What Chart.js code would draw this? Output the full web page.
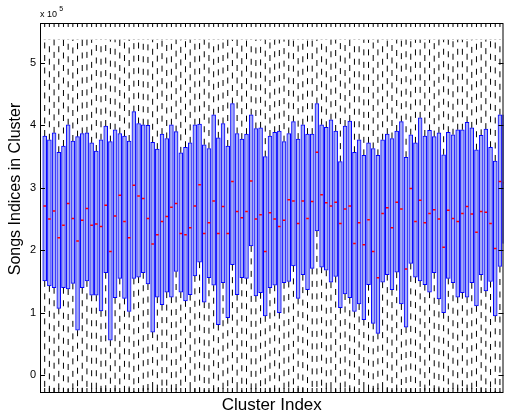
<!DOCTYPE html>
<html>
<head>
<meta charset="utf-8">
<script src="https://cdn.jsdelivr.net/npm/chart.js@4/dist/chart.umd.min.js"></script>
<style>
  body { margin: 0; background: #fff; }
  #wrap { width: 509px; height: 415px; }
</style>
</head>
<body>
<div id="wrap"><canvas id="boxChart" width="509" height="415"></canvas></div>
<script>
// values in units of 1e5 (axis shows "x 10^5")
const clusters = [];
for (let i = 1; i <= 99; i++) clusters.push(i);

const q3 = [3.83, 3.77, 3.88, 3.57, 3.67, 4.01, 3.75, 3.82, 3.87, 3.88,
  3.72, 3.59, 3.77, 3.99, 3.74, 3.93, 3.87, 3.83, 3.75, 4.22,
  4.03, 4.01, 4.00, 3.73, 3.62, 3.86, 3.79, 4.01, 3.90, 3.56,
  3.65, 3.72, 4.01, 4.02, 3.69, 3.63, 4.17, 3.80, 4.03, 3.67,
  4.35, 3.87, 3.78, 3.86, 4.17, 3.95, 3.96, 3.50, 3.83, 3.89,
  3.91, 3.74, 3.87, 4.06, 3.78, 4.01, 3.86, 3.86, 4.35, 4.01,
  3.97, 4.09, 3.91, 3.42, 3.99, 4.07, 3.57, 3.77, 3.52, 3.72,
  3.63, 3.52, 3.77, 3.86, 3.79, 3.91, 4.06, 3.49, 3.85, 3.72,
  4.12, 3.83, 3.92, 3.82, 3.88, 3.53, 3.89, 3.85, 3.93, 3.93,
  4.05, 3.96, 3.61, 3.84, 3.94, 3.65, 3.43, 4.17, 4.17];

const q1 = [1.51, 1.43, 1.40, 1.07, 1.40, 1.38, 1.47, 0.72, 1.40, 1.51,
  1.28, 1.28, 1.03, 1.64, 0.56, 1.24, 1.55, 1.23, 1.02, 1.55,
  1.57, 1.64, 1.46, 0.69, 1.25, 1.13, 1.33, 1.25, 1.66, 1.33,
  1.19, 1.29, 1.59, 1.81, 1.17, 1.56, 1.44, 0.81, 1.48, 0.92,
  1.77, 1.29, 1.56, 1.55, 2.07, 1.27, 1.32, 0.95, 1.40, 1.44,
  1.00, 1.48, 1.50, 1.75, 1.23, 1.61, 1.37, 1.71, 2.31, 1.73,
  1.68, 1.49, 1.58, 1.08, 1.30, 1.24, 1.02, 1.14, 0.89, 1.45,
  0.83, 0.67, 1.49, 1.61, 1.37, 1.65, 1.14, 0.77, 1.79, 1.57,
  1.51, 1.45, 1.33, 1.64, 1.22, 1.00, 1.55, 1.48, 1.25, 1.32,
  1.25, 1.48, 1.11, 1.61, 1.35, 1.50, 0.95, 1.74, 2.11];

const medians = [2.71, 2.50, 2.63, 2.20, 2.40, 2.75, 2.51, 2.15, 2.48, 2.67,
  2.40, 2.42, 2.38, 2.72, 1.98, 2.55, 2.88, 2.46, 2.20, 3.04,
  2.87, 2.83, 2.51, 2.10, 2.25, 2.46, 2.54, 2.69, 2.75, 2.27,
  2.25, 2.36, 2.71, 3.05, 2.27, 2.44, 2.79, 2.27, 2.70, 2.27,
  3.10, 2.62, 2.52, 2.62, 3.11, 2.50, 2.57, 1.98, 2.60, 2.50,
  2.38, 2.48, 2.81, 2.79, 2.43, 2.79, 2.51, 2.78, 3.57, 2.89,
  2.76, 2.71, 2.77, 2.43, 2.66, 2.71, 2.11, 2.44, 2.09, 2.49,
  1.98, 1.56, 2.59, 2.68, 2.36, 2.77, 2.66, 1.70, 2.99, 2.46,
  2.80, 2.44, 2.59, 2.65, 2.50, 2.05, 2.64, 2.51, 2.46, 2.59,
  2.70, 2.58, 2.29, 2.62, 2.61, 2.43, 2.03, 3.10, 3.08];

const whiskerTop = 5.38;
const whiskerBottom = -0.3;
const yTicks = [0, 1, 2, 3, 4, 5];

const FONT = 'Arial, "Liberation Sans", Helvetica, sans-serif';

// dashed whiskers + caps, drawn under the boxes
const whiskers = {
  id: 'whiskers',
  beforeDatasetsDraw(chart) {
    const { ctx, chartArea: a, scales: { x, y } } = chart;
    ctx.save();
    ctx.beginPath();
    ctx.rect(a.left, a.top, a.right - a.left, a.bottom - a.top);
    ctx.clip();
    ctx.lineWidth = 1;
    clusters.forEach((c, i) => {
      const px = x.getPixelForValue(c);
      ctx.strokeStyle = '#000';
      ctx.setLineDash([6, 6.5]);
      ctx.beginPath();
      ctx.moveTo(px, y.getPixelForValue(q3[i]));
      ctx.lineTo(px, y.getPixelForValue(whiskerTop));
      ctx.stroke();
      ctx.beginPath();
      ctx.moveTo(px, y.getPixelForValue(q1[i]));
      ctx.lineTo(px, y.getPixelForValue(whiskerBottom));
      ctx.stroke();
      ctx.setLineDash([]);
      ctx.strokeStyle = '#c8c8c8';
      ctx.beginPath();
      const ty = Math.round(y.getPixelForValue(whiskerTop)) + 0.5;
      ctx.moveTo(px - 1, ty);
      ctx.lineTo(px + 1, ty);
      ctx.stroke();
    });
    ctx.restore();
  }
};

// axes box with inward ticks on all four sides, y label and the exponent label
const frame = {
  id: 'frame',
  afterDraw(chart) {
    const { ctx, chartArea: a, scales: { x, y } } = chart;
    ctx.save();
    ctx.strokeStyle = '#000';
    ctx.lineWidth = 1;
    ctx.strokeRect(a.left + 0.5, a.top + 0.5, a.right - a.left - 1, a.bottom - a.top);
    ctx.beginPath();
    clusters.forEach(c => {
      const px = x.getPixelForValue(c);
      if (px > a.right - 1) return;
      ctx.moveTo(px, a.top);
      ctx.lineTo(px, a.top + 4);
      ctx.moveTo(px, a.bottom);
      ctx.lineTo(px, a.bottom - 4);
    });
    yTicks.forEach(v => {
      const py = Math.round(y.getPixelForValue(v)) + 0.5;
      ctx.moveTo(a.left, py);
      ctx.lineTo(a.left + 5, py);
      ctx.moveTo(a.right, py);
      ctx.lineTo(a.right - 5, py);
    });
    ctx.stroke();

    ctx.fillStyle = '#000';
    ctx.textBaseline = 'alphabetic';
    ctx.textAlign = 'left';
    ctx.font = '9px ' + FONT;
    ctx.fillText('x 10', a.left, 17);
    ctx.font = '7px ' + FONT;
    ctx.fillText('5', a.left + ctx.measureText('x 10').width + 6, 11);

    ctx.translate(16, 189);
    ctx.rotate(-Math.PI / 2);
    ctx.textAlign = 'center';
    ctx.textBaseline = 'middle';
    ctx.font = '16px ' + FONT;
    ctx.fillText('Songs Indices in Cluster', 0, 0);
    ctx.restore();
  }
};

new Chart(document.getElementById('boxChart'), {
  type: 'bar',
  data: {
    datasets: [
      {
        type: 'line',
        data: clusters.map((c, i) => ({ x: c, y: medians[i] })),
        showLine: false,
        pointStyle: 'line',
        pointRadius: 1.3,
        pointBorderWidth: 1.5,
        pointBorderColor: '#ff0000',
        pointBackgroundColor: '#ff0000',
        order: 0
      },
      {
        type: 'bar',
        data: clusters.map((c, i) => ({ x: c, y: [q1[i], q3[i]] })),
        backgroundColor: '#a6acf6',
        borderColor: '#0000ff',
        borderWidth: 1,
        borderSkipped: false,
        barThickness: 3.9,
        grouped: false,
        order: 1
      }
    ]
  },
  options: {
    responsive: false,
    animation: false,
    devicePixelRatio: 1,
    layout: { padding: { top: 23, right: 1, left: 0, bottom: 0 } },
    plugins: { legend: { display: false }, tooltip: { enabled: false } },
    scales: {
      x: {
        type: 'linear',
        min: 0,
        max: 98.76,
        offset: false,
        grid: { display: false, drawTicks: false },
        border: { display: false },
        ticks: { display: false },
        title: {
          display: true,
          text: 'Cluster Index',
          color: '#000',
          font: { family: FONT, size: 17, lineHeight: 1.1 },
          padding: 0
        },
        afterFit(scale) { scale.height = 23; }
      },
      y: {
        min: -0.27,
        max: 5.64,
        grid: { display: false, drawTicks: false },
        border: { display: false },
        afterBuildTicks(scale) { scale.ticks = yTicks.map(v => ({ value: v })); },
        ticks: {
          color: '#000',
          padding: 4,
          font: { family: FONT, size: 11 },
          callback: v => String(v)
        },
        afterFit(scale) { scale.width = 40; }
      }
    }
  },
  plugins: [whiskers, frame]
});
</script>
</body>
</html>
